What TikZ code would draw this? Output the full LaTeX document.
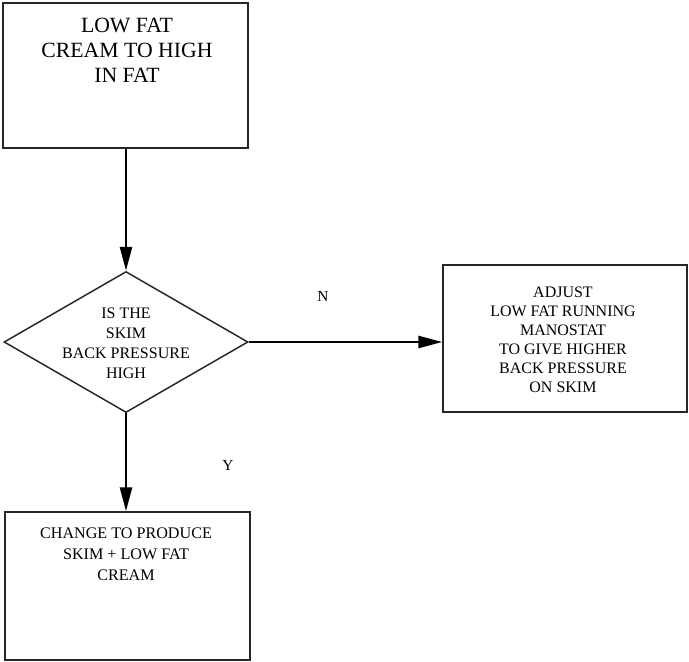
\documentclass[tikz,border=0pt]{standalone}
\usepackage{fontspec}
\setmainfont{Liberation Serif}
\usetikzlibrary{shapes.geometric,arrows.meta}
\begin{document}
\begin{tikzpicture}[x=0.75pt,y=-0.75pt,
  box/.style={draw=black!85,line width=1.1pt,rectangle,inner sep=0pt},
  decision/.style={draw=black!85,line width=1.1pt,diamond,inner sep=0pt},
  boxtext/.style={align=center,inner sep=0pt},
  flow/.style={line width=2pt,-{Triangle[length=18pt,width=9pt]}},
  branch/.style={font=\fontsize{11.5pt}{13pt}\selectfont,inner sep=0pt}]
  \useasboundingbox (0,0) rectangle (689,661);

  % process boxes and decision
  \node[box,minimum width=183.75pt,minimum height=108.75pt] (start) at (125.5,75.5) {};
  \node[boxtext,font=\fontsize{16.3pt}{18.75pt}\selectfont] (startText) at (127,50)
    {LOW FAT\\CREAM TO HIGH\\IN FAT};

  \node[decision,minimum width=183pt,minimum height=105.75pt] (check) at (126,342) {};
  \node[boxtext,font=\fontsize{12pt}{15pt}\selectfont] (checkText) at (126,343)
    {IS THE\\SKIM\\BACK PRESSURE\\HIGH};

  \node[box,minimum width=183pt,minimum height=110.25pt] (adjust) at (565,338.5) {};
  \node[boxtext,font=\fontsize{12pt}{14.25pt}\selectfont] (adjustText) at (563,340)
    {ADJUST\\LOW FAT RUNNING\\MANOSTAT\\TO GIVE HIGHER\\BACK PRESSURE\\ON SKIM};

  \node[box,minimum width=183.75pt,minimum height=111pt] (change) at (127.5,586) {};
  \node[boxtext,font=\fontsize{12.1pt}{15.75pt}\selectfont] (changeText) at (126,554)
    {CHANGE TO PRODUCE\\SKIM + LOW FAT\\CREAM};

  % branch labels
  \node[branch] (labelN) at (323,296) {N};
  \node[branch] (labelY) at (228,465) {Y};

  % connectors
  \draw[flow] (start.south -| check.north) -- (check.north);
  \draw[flow] (check.east) -- (check.east -| adjust.west);
  \draw[flow] (check.south) -- (check.south |- change.north);
\end{tikzpicture}
\end{document}
